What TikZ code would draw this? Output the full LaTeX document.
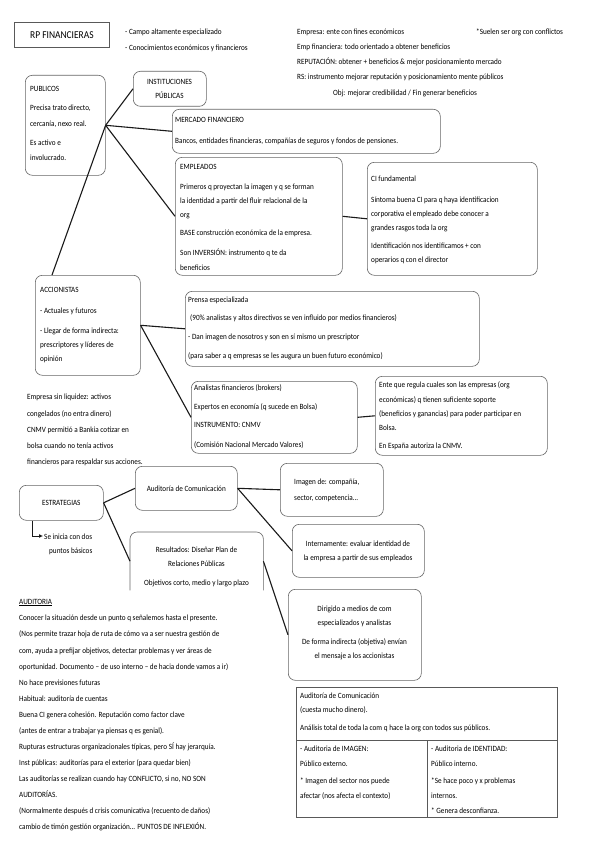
\documentclass[tikz,border=0pt]{standalone}
\usepackage{fontspec}
\setmainfont{Carlito}[FakeStretch=0.9]
\usetikzlibrary{arrows.meta,calc}
\tikzset{
  box/.style={draw=black!60, line width=0.6pt, rounded corners=7pt, inner sep=0pt, anchor=north west},
  sqbox/.style={draw=black!65, line width=0.8pt, inner sep=0pt, anchor=north west},
  conn/.style={draw=black!90, line width=1.1pt},
  txt/.style={anchor=base west, inner sep=0pt, font=\fontsize{8}{9}\selectfont},
  ctxt/.style={anchor=base, inner sep=0pt, font=\fontsize{8}{9}\selectfont},
}
\begin{document}
\begin{tikzpicture}[x=1pt,y=-1pt]
\useasboundingbox[fill=white] (0,0) rectangle (599,848);

% ---------- header ----------
\node[sqbox, minimum width=95pt, minimum height=25pt] (rp) at (14,22) {};
\node[inner sep=0pt, font=\fontsize{10.5}{12}\selectfont] (rpt) at (rp.center) {RP FINANCIERAS};
\node[txt] (h1) at (125,35) {- Campo altamente especializado};
\node[txt] (h2) at (125,51) {- Conocimientos económicos y financieros};
\node[txt] (h3) at (297,35) {Empresa: ente con fines económicos};
\node[txt] (h4) at (476,35) {*Suelen ser org con conflictos};
\node[txt] (h5) at (297,50) {Emp financiera: todo orientado a obtener beneficios};
\node[txt] (h6) at (297,65) {REPUTACIÓN: obtener + beneficios \& mejor posicionamiento mercado};
\node[txt] (h7) at (297,80) {RS: instrumento mejorar reputación y posicionamiento mente públicos};
\node[txt] (h8) at (333,96) {Obj: mejorar credibilidad / Fin generar beneficios};

% ---------- PUBLICOS ----------
\node[box, minimum width=80pt, minimum height=100pt] (pub) at (25,75) {};
\node[txt] (p1) at (30,92) {PUBLICOS};
\node[txt] (p2) at (30,111) {Precisa trato directo,};
\node[txt] (p3) at (30,126) {cercanía, nexo real.};
\node[txt] (p4) at (30,145) {Es activo e};
\node[txt] (p5) at (30,160) {involucrado.};

\node[box, minimum width=73pt, minimum height=35pt] (inst) at (133,71) {};
\node[ctxt] (i1) at (169.5,85) {INSTITUCIONES};
\node[ctxt] (i2) at (169.5,99) {PÚBLICAS};

\node[box, minimum width=268pt, minimum height=44pt] (merc) at (172,109) {};
\node[txt] (m1) at (175,122) {MERCADO FINANCIERO};
\node[txt] (m2) at (175,143) {Bancos, entidades financieras, compañías de seguros y fondos de pensiones.};

\node[box, minimum width=167pt, minimum height=118pt] (emp) at (175,157) {};
\node[txt] (e1) at (180,169) {EMPLEADOS};
\node[txt] (e2) at (180,189) {Primeros q proyectan la imagen y q se forman};
\node[txt] (e3) at (180,203) {la identidad a partir del fluir relacional de la};
\node[txt] (e4) at (180,217) {org};
\node[txt] (e5) at (180,235) {BASE construcción económica de la empresa.};
\node[txt] (e6) at (180,255) {Son INVERSIÓN: instrumento q te da};
\node[txt] (e7) at (180,270) {beneficios};

\node[box, minimum width=170pt, minimum height=113pt] (ci) at (367,162) {};
\node[txt] (c1) at (371,181) {CI fundamental};
\node[txt] (c2) at (371,202) {Síntoma buena CI para q haya identificacion};
\node[txt] (c3) at (371,216) {corporativa el empleado debe conocer a};
\node[txt] (c4) at (371,230) {grandes rasgos toda la org};
\node[txt] (c5) at (371,248) {Identificación nos identificamos + con};
\node[txt] (c6) at (371,262) {operarios q con el director};

% ---------- ACCIONISTAS ----------
\node[box, minimum width=105pt, minimum height=100pt] (acc) at (35,275) {};
\node[txt] (a1) at (40,292) {ACCIONISTAS};
\node[txt] (a2) at (40,313) {- Actuales y futuros};
\node[txt] (a3) at (40,333) {- Llegar de forma indirecta:};
\node[txt] (a4) at (40,347) {prescriptores y líderes de};
\node[txt] (a5) at (40,361) {opinión};

\node[box, minimum width=294pt, minimum height=75pt] (pre) at (185,291) {};
\node[txt] (r1) at (188,302) {Prensa especializada};
\node[txt] (r2) at (190,320) {(90\% analistas y altos directivos se ven influido por medios financieros)};
\node[txt] (r3) at (188,339) {- Dan imagen de nosotros y son en sí mismo un prescriptor};
\node[txt] (r4) at (188,358) {(para saber a q empresas se les augura un buen futuro económico)};

\node[box, minimum width=166pt, minimum height=72pt] (ana) at (191,381) {};
\node[txt] (n1) at (194,390) {Analistas financieros (brokers)};
\node[txt] (n2) at (194,409) {Expertos en economía (q sucede en Bolsa)};
\node[txt] (n3) at (194,427) {INSTRUMENTO: CNMV};
\node[txt] (n4) at (194,447) {(Comisión Nacional Mercado Valores)};

\node[box, minimum width=172pt, minimum height=79pt] (ente) at (375,376) {};
\node[txt] (t1) at (379,387) {Ente que regula cuales son las empresas (org};
\node[txt] (t2) at (379,402) {económicas) q tienen suficiente soporte};
\node[txt] (t3) at (379,416) {(beneficios y ganancias) para poder participar en};
\node[txt] (t4) at (379,430) {Bolsa.};
\node[txt] (t5) at (379,448) {En España autoriza la CNMV.};

\node[txt] (l1) at (27,399) {Empresa sin liquidez: activos};
\node[txt] (l2) at (27,416) {congelados (no entra dinero)};
\node[txt] (l3) at (27,432) {CNMV permitió a Bankia cotizar en};
\node[txt] (l4) at (27,448) {bolsa cuando no tenía activos};
\node[txt] (l5) at (27,464) {financieros para respaldar sus acciones.};

% ---------- ESTRATEGIAS ----------
\node[box, minimum width=84pt, minimum height=35pt] (est) at (19,485) {};
\node[inner sep=0pt, font=\fontsize{8}{9}\selectfont] (estt) at (est.center) {ESTRATEGIAS};
\coordinate (arr) at (43,536);
\node[txt] (s1) at (44,539) {Se inicia con dos};
\node[txt] (s2) at (49,553) {puntos básicos};

\node[box, minimum width=102pt, minimum height=44pt] (aud) at (135,466) {};
\node[inner sep=0pt, font=\fontsize{8}{9}\selectfont] (audt) at (aud.center) {Auditoría de Comunicación};

\node[box, minimum width=103pt, minimum height=53pt] (img) at (280,463) {};
\node[txt] (g1) at (294,484) {Imagen de: compañía,};
\node[txt] (g2) at (294,500) {sector, competencia...};

\node[box, minimum width=132pt, minimum height=53pt] (int) at (292,524) {};
\node[ctxt] (k1) at (358,546) {Internamente: evaluar identidad de};
\node[ctxt] (k2) at (358,560) {la empresa a partir de sus empleados};

\node[inner sep=0pt, minimum width=133pt, minimum height=58pt, anchor=north west] (res) at (130,532) {};
\draw[draw=black!60, line width=0.6pt, rounded corners=7pt] (res.south west) |- (res.north east) -- (res.south east);
\node[ctxt] (u1) at (196.5,552) {Resultados: Diseñar Plan de};
\node[ctxt] (u2) at (196.5,566) {Relaciones Públicas};
\node[ctxt] (u3) at (196.5,585) {Objetivos corto, medio y largo plazo};

\node[box, minimum width=133pt, minimum height=91pt] (dir) at (288,589) {};
\node[ctxt] (d1) at (354.5,611) {Dirigido a medios de com};
\node[ctxt] (d2) at (354.5,625) {especializados y analistas};
\node[ctxt] (d3) at (354.5,644) {De forma indirecta (objetiva) envían};
\node[ctxt] (d4) at (354.5,658) {el mensaje a los accionistas};

% ---------- AUDITORIA text ----------
\node[txt] (q0) at (19,604) {\underline{AUDITORIA}};
\node[txt] (q1) at (19,620) {Conocer la situación desde un punto q señalemos hasta el presente.};
\node[txt] (q2) at (19,636) {(Nos permite trazar hoja de ruta de cómo va a ser nuestra gestión de};
\node[txt] (q3) at (19,653) {com, ayuda a prefijar objetivos, detectar problemas y ver áreas de};
\node[txt] (q4) at (19,669) {oportunidad. Documento -- de uso interno -- de hacia donde vamos a ir)};
\node[txt] (q5) at (19,685) {No hace previsiones futuras};
\node[txt] (q6) at (19,701) {Habitual: auditoría de cuentas};
\node[txt] (q7) at (19,717) {Buena CI genera cohesión. Reputación como factor clave};
\node[txt] (q8) at (19,733) {(antes de entrar a trabajar ya piensas q es genial).};
\node[txt] (q9) at (19,749) {Rupturas estructuras organizacionales típicas, pero SÍ hay jerarquía.};
\node[txt] (q10) at (19,765) {Inst públicas: auditorías para el exterior (para quedar bien)};
\node[txt] (q11) at (19,781) {Las auditorías se realizan cuando hay CONFLICTO, si no, NO SON};
\node[txt] (q12) at (19,797) {AUDITORÍAS.};
\node[txt] (q13) at (19,813) {(Normalmente después d crisis comunicativa (recuento de daños)};
\node[txt] (q14) at (19,829) {cambio de timón gestión organización... PUNTOS DE INFLEXIÓN.};

% ---------- table ----------
\node[sqbox, minimum width=261pt, minimum height=130pt] (tab) at (296,687) {};
\coordinate (tl) at (296,740);
\coordinate (tr) at (557,740);
\coordinate (vt) at (427,740);
\draw[draw=black!65, line width=0.8pt] (tl) -- (tr) (vt) -- (vt |- tab.south);
\node[txt] (b1) at (300,698) {Auditoría de Comunicación};
\node[txt] (b2) at (300,712) {(cuesta mucho dinero).};
\node[txt] (b3) at (300,730) {Análisis total de toda la com q hace la org con todos sus públicos.};
\node[txt] (b4) at (300,751) {- Auditoria de IMAGEN:};
\node[txt] (b5) at (300,766) {Público externo.};
\node[txt] (b6) at (300,783) {* Imagen del sector nos puede};
\node[txt] (b7) at (300,798) {afectar (nos afecta el contexto)};
\node[txt] (b8) at (431,751) {- Auditoria de IDENTIDAD:};
\node[txt] (b9) at (431,766) {Público interno.};
\node[txt] (b10) at (431,783) {*Se hace poco y x problemas};
\node[txt] (b11) at (431,798) {internos.};
\node[txt] (b12) at (431,813) {* Genera desconfianza.};

% ---------- connectors ----------
\draw[conn] (pub.east) -- (inst.west);
\draw[conn] (pub.east) -- (merc.west);
\draw[conn] (pub.east) -- (emp.west);
\draw[conn] (pub.east) -- ([xshift=17pt]acc.north west);
\draw[conn] (emp.east) -- (ci.west);
\draw[conn] (acc.east) -- (pre.west);
\draw[conn] (acc.east) -- (ana.west);
\draw[conn] (ana.east) -- (ente.west);
\draw[conn] (est.east) -- (aud.west);
\draw[conn] (est.east) -- (res.west);
\draw[conn] (aud.east) -- (img.west);
\draw[conn] (aud.east) -- (int.west);
\draw[conn] (res.east) -- (dir.west);
\draw[draw=black!90, line width=0.8pt, -{Latex[length=4pt,width=4pt]}] ([xshift=13pt]est.south west) |- (arr);
\end{tikzpicture}
\end{document}
